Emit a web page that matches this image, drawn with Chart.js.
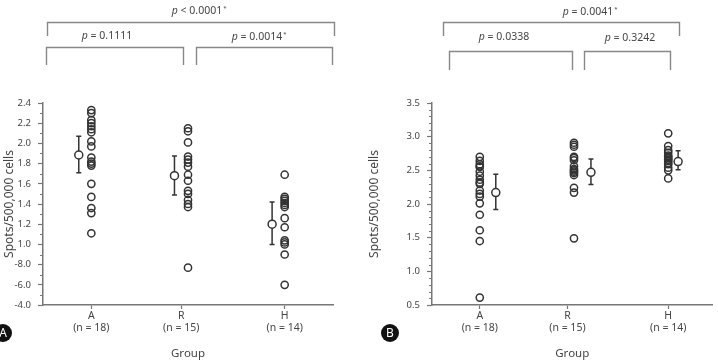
<!DOCTYPE html>
<html>
<head>
<meta charset="utf-8">
<script src="https://cdn.jsdelivr.net/npm/chart.js@4"></script>
<style>
  html, body { margin: 0; padding: 0; background: #fff; }
  #wrap { position: relative; width: 718px; height: 364px; }
  .panel { position: absolute; top: 0; width: 359px; height: 364px; }
</style>
</head>
<body>
<div id="wrap">
  <div class="panel" style="left:0"><canvas id="chartA" width="359" height="364"></canvas></div>
  <div class="panel" style="left:359px"><canvas id="chartB" width="359" height="364"></canvas></div>
</div>
<script>
// groups and sample sizes
const groups = ["A", "R", "H"];
const groupN = ["(n = 18)", "(n = 15)", "(n = 14)"];

// panel A values (spots/500,000 cells)
const panelA_A = [2.33, 2.30, 2.23, 2.20, 2.17, 2.14, 2.11, 2.02, 1.97, 1.86, 1.82, 1.80, 1.78, 1.60, 1.47, 1.36, 1.31, 1.11];
const panelA_R = [2.15, 2.12, 2.01, 1.87, 1.84, 1.81, 1.77, 1.69, 1.63, 1.53, 1.50, 1.44, 1.40, 1.37, 0.77];
const panelA_H = [1.69, 1.47, 1.45, 1.43, 1.41, 1.39, 1.37, 1.26, 1.17, 1.04, 1.02, 1.00, 0.90, 0.60];
const panelA_mean = [1.885, 1.68, 1.20];
const panelA_low = [1.71, 1.49, 1.00];
const panelA_high = [2.07, 1.875, 1.42];
const yTicksA = [0.4, 0.6, 0.8, 1.0, 1.2, 1.4, 1.6, 1.8, 2.0, 2.2, 2.4];
const yTickLabelsA = ["-4.0", "-6.0", "-8.0", "1.0", "1.2", "1.4", "1.6", "1.8", "2.0", "2.2", "2.4"];

// panel B values
const panelB_A = [2.70, 2.64, 2.59, 2.56, 2.55, 2.48, 2.42, 2.36, 2.32, 2.30, 2.20, 2.15, 2.11, 2.01, 1.84, 1.61, 1.45, 0.61];
const panelB_R = [2.91, 2.88, 2.85, 2.70, 2.68, 2.65, 2.56, 2.52, 2.50, 2.48, 2.46, 2.43, 2.24, 2.17, 1.49];
const panelB_H = [3.05, 2.86, 2.80, 2.76, 2.72, 2.70, 2.68, 2.66, 2.64, 2.61, 2.59, 2.54, 2.50, 2.38];
const panelB_mean = [2.17, 2.47, 2.63];
const panelB_low = [1.92, 2.29, 2.51];
const panelB_high = [2.44, 2.67, 2.79];
const yTicksB = [0.5, 1.0, 1.5, 2.0, 2.5, 3.0, 3.5];
const yTickLabelsB = ["0.5", "1.0", "1.5", "2.0", "2.5", "3.0", "3.5"];

// p-values (top, left pair, right pair)
const pA = ["p < 0.0001", "p = 0.1111", "p = 0.0014"];
const starA = [true, false, true];
const pB = ["p = 0.0041", "p = 0.0338", "p = 0.3242"];
const starB = [true, false, false];

const FONT = "'Noto Sans', sans-serif";
const INK = "#444";
const AXIS = "#777";

function drawPText(ctx, text, star, cx, cy) {
  const rest = text.slice(1);
  ctx.save();
  ctx.textBaseline = "middle";
  ctx.fillStyle = INK;
  ctx.font = "italic 10.5px " + FONT;
  const wp = ctx.measureText("p").width;
  ctx.font = "10.5px " + FONT;
  const wr = ctx.measureText(rest).width;
  const x0 = cx - (wp + wr) / 2;
  ctx.font = "italic 10.5px " + FONT;
  ctx.fillText("p", x0, cy);
  ctx.font = "10.5px " + FONT;
  ctx.fillText(rest, x0 + wp, cy);
  if (star) {
    ctx.font = "6px " + FONT;
    ctx.fillText("*", x0 + wp + wr + 1, cy - 3);
  }
  ctx.restore();
}

function bracket(ctx, x1, x2, y, yb) {
  ctx.beginPath();
  ctx.moveTo(x1, yb);
  ctx.lineTo(x1, y);
  ctx.lineTo(x2, y);
  ctx.lineTo(x2, yb);
  ctx.stroke();
}

const extras = {
  id: "extras",
  beforeDatasetsDraw(chart, args, opts) {
    const ctx = chart.ctx, xs = chart.scales.x, ys = chart.scales.y;
    ctx.save();
    ctx.strokeStyle = "#333";
    ctx.lineWidth = 1.5;
    opts.mean.forEach((m, i) => {
      const x = xs.getPixelForValue(i + 1 + opts.shift[i]);
      const yl = ys.getPixelForValue(opts.low[i]);
      const yh = ys.getPixelForValue(opts.high[i]);
      ctx.beginPath();
      ctx.moveTo(x, yl); ctx.lineTo(x, yh);
      ctx.moveTo(x - 2.5, yl); ctx.lineTo(x + 2.5, yl);
      ctx.moveTo(x - 2.5, yh); ctx.lineTo(x + 2.5, yh);
      ctx.stroke();
    });
    ctx.restore();
  },
  afterDraw(chart, args, opts) {
    const ctx = chart.ctx, ys = chart.scales.y;
    ctx.save();
    // minor ticks
    ctx.strokeStyle = AXIS;
    ctx.lineWidth = 1;
    const left = chart.chartArea.left;
    for (let v = ys.min; v <= ys.max + 1e-6; v += 0.1) {
      const isMajor = opts.ticks.some(t => Math.abs(t - v) < 1e-6);
      if (isMajor) continue;
      const y = Math.round(ys.getPixelForValue(v)) + 0.5;
      ctx.beginPath();
      ctx.moveTo(left - 3, y); ctx.lineTo(left, y);
      ctx.stroke();
    }
    // brackets
    ctx.strokeStyle = "#888";
    ctx.lineWidth = 1.4;
    opts.brackets.forEach(b => bracket(ctx, b[0], b[1], b[2], b[3]));
    opts.labels.forEach((l, i) => drawPText(ctx, opts.pvals[i], opts.stars[i], l[0], l[1]));
    // panel badge
    ctx.fillStyle = "#111";
    ctx.beginPath();
    ctx.arc(opts.badge[0], opts.badge[1], 9, 0, Math.PI * 2);
    ctx.fill();
    ctx.fillStyle = "#fff";
    ctx.font = "12px " + FONT;
    ctx.textAlign = "center";
    ctx.textBaseline = "middle";
    ctx.fillText(opts.badge[2], opts.badge[0], opts.badge[1] + 0.5);
    ctx.restore();
  }
};

function makeChart(id, series, mean, low, high, shift, yTicks, yLabels, yWidth, pad, xMin, xMax, extraOpts) {
  const pointSets = series.map((vals, gi) => ({
    data: vals.map(v => ({ x: gi + 1, y: v })),
    pointStyle: "circle",
    pointRadius: 3.6,
    pointBorderWidth: 1.5,
    pointBorderColor: "#333",
    pointBackgroundColor: "rgba(255,255,255,0)",
    showLine: false
  }));
  pointSets.push({
    data: mean.map((m, i) => ({ x: i + 1 + shift[i], y: m })),
    pointStyle: "circle",
    pointRadius: 4,
    pointBorderWidth: 1.5,
    pointBorderColor: "#333",
    pointBackgroundColor: "#fff",
    showLine: false
  });
  return new Chart(document.getElementById(id), {
    type: "scatter",
    data: { datasets: pointSets },
    options: {
      responsive: false,
      animation: false,
      devicePixelRatio: 1,
      layout: { padding: pad },
      plugins: {
        legend: { display: false },
        tooltip: { enabled: false },
        extras: Object.assign({ mean, low, high, shift, ticks: yTicks }, extraOpts)
      },
      scales: {
        x: {
          type: "linear",
          min: xMin,
          max: xMax,
          afterBuildTicks: s => { s.ticks = [1, 1.93, 3].map(v => ({ value: v })); },
          afterFit: s => { s.height = 59; },
          ticks: {
            color: INK,
            font: { family: FONT, size: 10.5, lineHeight: 1.05 },
            padding: 2,
            maxRotation: 0,
            callback: (v, i) => [groups[i], groupN[i]]
          },
          grid: { drawOnChartArea: false, drawTicks: true, tickLength: 4, color: AXIS, tickWidth: 1.2 },
          border: { color: AXIS, width: 1.5 },
          title: { display: true, text: "Group", color: INK, font: { family: FONT, size: 11.5 }, padding: { top: 0, bottom: 3 } }
        },
        y: {
          type: "linear",
          min: yTicks[0],
          max: yTicks[yTicks.length - 1],
          afterBuildTicks: s => { s.ticks = yTicks.map(v => ({ value: v })); },
          afterFit: s => { s.width = yWidth; },
          ticks: {
            color: INK,
            font: { family: FONT, size: 9.5 },
            padding: 7,
            callback: (v, i) => yLabels[i]
          },
          grid: { drawOnChartArea: false, drawTicks: true, tickLength: 5, color: AXIS, tickWidth: 1.2 },
          border: { color: AXIS, width: 1.5 },
          title: { display: true, text: "Spots/500,000 cells", color: INK, font: { family: FONT, size: 12 }, padding: { top: extraOpts.titlePad, bottom: 0 } }
        }
      }
    },
    plugins: [extras]
  });
}

makeChart("chartA", [panelA_A, panelA_R, panelA_H], panelA_mean, panelA_low, panelA_high,
  [-0.13, -0.14, -0.13], yTicksA, yTickLabelsA, 43,
  { top: 103, right: 26, left: 0, bottom: 0 }, 0.5, 3.5,
  {
    titlePad: 2,
    brackets: [[47.5, 334.5, 22.5, 36], [46.5, 183.5, 47.5, 65], [196.5, 332.5, 47.5, 65]],
    labels: [[197, 11], [107, 36], [257, 37.5]],
    pvals: pA,
    stars: starA,
    badge: [3, 333, "A"]
  });

makeChart("chartB", [panelB_A, panelB_R, panelB_H], panelB_mean, panelB_low, panelB_high,
  [0.17, 0.18, 0.105], yTicksB, yTickLabelsB, 73,
  { top: 103, right: 1, left: 0, bottom: 0 }, 0.493, 3.47,
  {
    titlePad: 8,
    brackets: [[84.5, 320.5, 22.5, 36], [90.5, 213.5, 51.5, 70], [225.5, 311.5, 51.5, 70]],
    labels: [[229, 12], [145, 37], [271, 38]],
    pvals: pB,
    stars: starB,
    badge: [31, 333, "B"]
  });
</script>
</body>
</html>
